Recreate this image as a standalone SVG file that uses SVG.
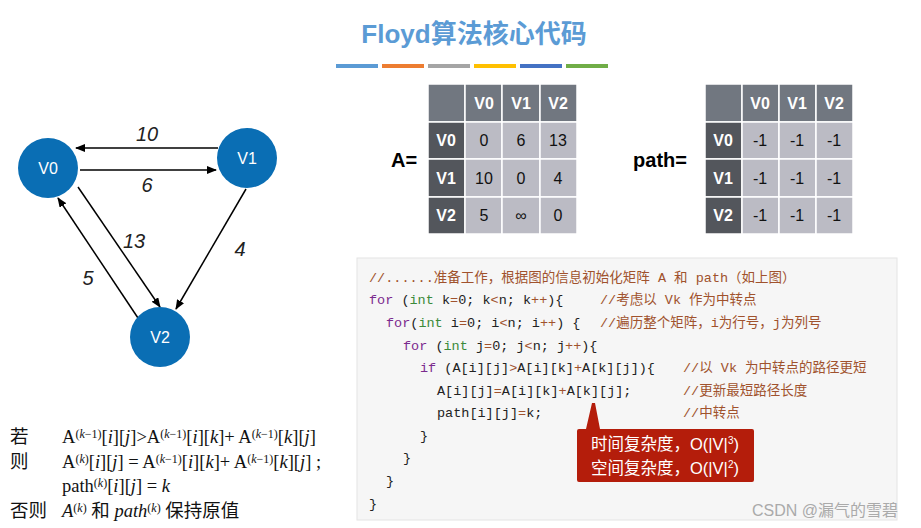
<svg xmlns="http://www.w3.org/2000/svg" width="921" height="528" viewBox="0 0 921 528">
<defs>
<marker id="ar" markerWidth="10" markerHeight="8" refX="9" refY="4" orient="auto" markerUnits="userSpaceOnUse"><path d="M0,0 L10,4 L0,8 Z" fill="#000"/></marker>
<style>
.nd{fill:#0a6eb4}
.nt{font-family:"Liberation Sans",Arial,sans-serif;font-size:16px;fill:#fff;text-anchor:middle}
.el{font-family:"Liberation Sans",Arial,sans-serif;font-size:20px;font-style:italic;fill:#222;text-anchor:middle}
.hd{fill:#717780}.rh{fill:#53565c}.cl{fill:#bbbbc4}
.ht{font-family:"Liberation Sans",Arial,sans-serif;font-size:16px;font-weight:bold;fill:#fff;text-anchor:middle}
.ct{font-family:"Liberation Sans",Arial,sans-serif;font-size:16px;fill:#111;text-anchor:middle}
.code{font-family:"Liberation Mono","Noto Sans CJK SC",monospace;font-size:13.5px;fill:#222}
.kw{fill:#7b2a8e}.ty{fill:#3a8a3a}.cm{fill:#a0522d}.op{fill:#a0522d}
.ser{font-family:"Liberation Serif","Noto Sans CJK SC",serif;font-size:18.5px;fill:#111}
.sup{font-size:12px}
</style>
</defs>
<rect width="921" height="528" fill="#fff"/>
<text x="474" y="43" text-anchor="middle" font-family="Liberation Sans,Noto Sans CJK SC,sans-serif" font-size="26" font-weight="bold" fill="#5b9bd5">Floyd算法核心代码</text>
<g>
<rect x="336" y="64" width="42" height="4" fill="#5b9bd5"/>
<rect x="382" y="64" width="42" height="4" fill="#ed7d31"/>
<rect x="428" y="64" width="42" height="4" fill="#a5a5a5"/>
<rect x="474" y="64" width="42" height="4" fill="#ffc000"/>
<rect x="520" y="64" width="42" height="4" fill="#4472c4"/>
<rect x="566" y="64" width="42" height="4" fill="#70ad47"/>
</g>
<g id="connectors" stroke="#000" stroke-width="1.5" fill="none">
<line x1="218" y1="148" x2="76" y2="148" marker-end="url(#ar)"/>
<line x1="80" y1="170" x2="216" y2="170" marker-end="url(#ar)"/>
<line x1="78" y1="187" x2="160" y2="307" marker-end="url(#ar)"/>
<line x1="138" y1="318" x2="58" y2="198" marker-end="url(#ar)"/>
<line x1="246" y1="189" x2="176" y2="309" marker-end="url(#ar)"/>
</g>
<text class="el" x="147" y="141">10</text>
<text class="el" x="147" y="192">6</text>
<text class="el" x="134" y="248">13</text>
<text class="el" x="88" y="285">5</text>
<text class="el" x="240" y="256">4</text>
<g id="V0"><circle class="nd" cx="48" cy="168" r="30"/><text class="nt" x="48" y="174">V0</text></g>
<g id="V1"><circle class="nd" cx="247" cy="158" r="30"/><text class="nt" x="247" y="164">V1</text></g>
<g id="V2"><circle class="nd" cx="160" cy="337" r="30"/><text class="nt" x="160" y="343">V2</text></g>

<g id="matA">
<text x="404" y="167" text-anchor="middle" font-family="Liberation Sans,sans-serif" font-size="20" font-weight="bold">A=</text>
<g stroke="#fff" stroke-width="1.5">
<rect class="hd" x="428" y="84" width="37" height="38"/><rect class="hd" x="465" y="84" width="37" height="38"/><rect class="hd" x="502" y="84" width="38" height="38"/><rect class="hd" x="540" y="84" width="37" height="38"/>
<rect class="rh" x="428" y="122" width="37" height="37"/><rect class="cl" x="465" y="122" width="37" height="37"/><rect class="cl" x="502" y="122" width="38" height="37"/><rect class="cl" x="540" y="122" width="37" height="37"/>
<rect class="rh" x="428" y="159" width="37" height="38"/><rect class="cl" x="465" y="159" width="37" height="38"/><rect class="cl" x="502" y="159" width="38" height="38"/><rect class="cl" x="540" y="159" width="37" height="38"/>
<rect class="rh" x="428" y="197" width="37" height="37"/><rect class="cl" x="465" y="197" width="37" height="37"/><rect class="cl" x="502" y="197" width="38" height="37"/><rect class="cl" x="540" y="197" width="37" height="37"/>
</g>
<text class="ht" x="484" y="109">V0</text><text class="ht" x="521" y="109">V1</text><text class="ht" x="558" y="109">V2</text>
<text class="ht" x="446" y="146">V0</text><text class="ht" x="446" y="184">V1</text><text class="ht" x="446" y="221">V2</text>
<text class="ct" x="484" y="146">0</text><text class="ct" x="521" y="146">6</text><text class="ct" x="558" y="146">13</text>
<text class="ct" x="484" y="184">10</text><text class="ct" x="521" y="184">0</text><text class="ct" x="558" y="184">4</text>
<text class="ct" x="484" y="221">5</text><text class="ct" x="521" y="221">∞</text><text class="ct" x="558" y="221">0</text>
</g>

<g id="matPath">
<text x="660" y="167" text-anchor="middle" font-family="Liberation Sans,sans-serif" font-size="20" font-weight="bold">path=</text>
<g stroke="#fff" stroke-width="1.5">
<rect class="hd" x="705" y="84" width="37" height="38"/><rect class="hd" x="742" y="84" width="37" height="38"/><rect class="hd" x="779" y="84" width="37" height="38"/><rect class="hd" x="816" y="84" width="37" height="38"/>
<rect class="rh" x="705" y="122" width="37" height="37"/><rect class="cl" x="742" y="122" width="37" height="37"/><rect class="cl" x="779" y="122" width="37" height="37"/><rect class="cl" x="816" y="122" width="37" height="37"/>
<rect class="rh" x="705" y="159" width="37" height="38"/><rect class="cl" x="742" y="159" width="37" height="38"/><rect class="cl" x="779" y="159" width="37" height="38"/><rect class="cl" x="816" y="159" width="37" height="38"/>
<rect class="rh" x="705" y="197" width="37" height="37"/><rect class="cl" x="742" y="197" width="37" height="37"/><rect class="cl" x="779" y="197" width="37" height="37"/><rect class="cl" x="816" y="197" width="37" height="37"/>
</g>
<text class="ht" x="760" y="109">V0</text><text class="ht" x="797" y="109">V1</text><text class="ht" x="834" y="109">V2</text>
<text class="ht" x="723" y="146">V0</text><text class="ht" x="723" y="184">V1</text><text class="ht" x="723" y="221">V2</text>
<text class="ct" x="760" y="146">-1</text><text class="ct" x="797" y="146">-1</text><text class="ct" x="834" y="146">-1</text>
<text class="ct" x="760" y="184">-1</text><text class="ct" x="797" y="184">-1</text><text class="ct" x="834" y="184">-1</text>
<text class="ct" x="760" y="221">-1</text><text class="ct" x="797" y="221">-1</text><text class="ct" x="834" y="221">-1</text>
</g>

<g id="code">
<rect x="357" y="258" width="540" height="262" fill="#f6f6f6" stroke="#e4e4e4"/>
<text class="code" x="369" y="282" xml:space="preserve"><tspan class="cm">//......准备工作，根据图的信息初始化矩阵 A 和 path（如上图）</tspan></text>
<text class="code" x="369" y="304" xml:space="preserve"><tspan class="kw">for</tspan> (<tspan class="ty">int</tspan> k<tspan class="op">=</tspan>0; k<tspan class="op">&lt;</tspan>n; k<tspan class="op">++</tspan>){</text>
<text class="code" x="600" y="304"><tspan class="cm">//考虑以 Vk 作为中转点</tspan></text>
<text class="code" x="386" y="327" xml:space="preserve"><tspan class="kw">for</tspan>(<tspan class="ty">int</tspan> i<tspan class="op">=</tspan>0; i<tspan class="op">&lt;</tspan>n; i<tspan class="op">++</tspan>) {</text>
<text class="code" x="600" y="327"><tspan class="cm">//遍历整个矩阵，i为行号，j为列号</tspan></text>
<text class="code" x="403" y="350" xml:space="preserve"><tspan class="kw">for</tspan> (<tspan class="ty">int</tspan> j<tspan class="op">=</tspan>0; j<tspan class="op">&lt;</tspan>n; j<tspan class="op">++</tspan>){</text>
<text class="code" x="420" y="372" xml:space="preserve"><tspan class="kw">if</tspan> (A[i][j]<tspan class="op">&gt;</tspan>A[i][k]<tspan class="op">+</tspan>A[k][j]){</text>
<text class="code" x="683" y="372"><tspan class="cm">//以 Vk 为中转点的路径更短</tspan></text>
<text class="code" x="437" y="395" xml:space="preserve">A[i][j]<tspan class="op">=</tspan>A[i][k]<tspan class="op">+</tspan>A[k][j];</text>
<text class="code" x="683" y="395"><tspan class="cm">//更新最短路径长度</tspan></text>
<text class="code" x="437" y="417" xml:space="preserve">path[i][j]<tspan class="op">=</tspan>k;</text>
<text class="code" x="683" y="417"><tspan class="cm">//中转点</tspan></text>
<text class="code" x="420" y="440">}</text>
<text class="code" x="403" y="462">}</text>
<text class="code" x="386" y="485">}</text>
<text class="code" x="369" y="508">}</text>
</g>

<g id="callout">
<path d="M579,429 L586,429 L592,403 L595,403 L600,429 L752,429 Q754,429 754,431 L754,480 Q754,482 752,482 L579,482 Q577,482 577,480 L577,431 Q577,429 579,429 Z" fill="#b41d0b"/>
<text x="665" y="450" text-anchor="middle" font-family="Liberation Sans,Noto Sans CJK SC,sans-serif" font-size="16.5" fill="#fff">时间复杂度，O(|V|<tspan font-size="10" dy="-6">3</tspan><tspan dy="6">)</tspan></text>
<text x="665" y="474" text-anchor="middle" font-family="Liberation Sans,Noto Sans CJK SC,sans-serif" font-size="16.5" fill="#fff">空间复杂度，O(|V|<tspan font-size="10" dy="-6">2</tspan><tspan dy="6">)</tspan></text>
</g>

<g id="formula">
<text class="ser" x="10" y="443">若</text>
<text class="ser" x="62" y="443">A<tspan class="sup" dy="-5">(<tspan font-style="italic">k</tspan>−1)</tspan><tspan dy="5">[<tspan font-style="italic">i</tspan>][<tspan font-style="italic">j</tspan>]&gt;A</tspan><tspan class="sup" dy="-5">(<tspan font-style="italic">k</tspan>−1)</tspan><tspan dy="5">[<tspan font-style="italic">i</tspan>][<tspan font-style="italic">k</tspan>]+ A</tspan><tspan class="sup" dy="-5">(<tspan font-style="italic">k</tspan>−1)</tspan><tspan dy="5">[<tspan font-style="italic">k</tspan>][<tspan font-style="italic">j</tspan>]</tspan></text>
<text class="ser" x="10" y="468">则</text>
<text class="ser" x="62" y="468">A<tspan class="sup" dy="-5">(<tspan font-style="italic">k</tspan>)</tspan><tspan dy="5">[<tspan font-style="italic">i</tspan>][<tspan font-style="italic">j</tspan>] = A</tspan><tspan class="sup" dy="-5">(<tspan font-style="italic">k</tspan>−1)</tspan><tspan dy="5">[<tspan font-style="italic">i</tspan>][<tspan font-style="italic">k</tspan>]+ A</tspan><tspan class="sup" dy="-5">(<tspan font-style="italic">k</tspan>−1)</tspan><tspan dy="5">[<tspan font-style="italic">k</tspan>][<tspan font-style="italic">j</tspan>] ;</tspan></text>
<text class="ser" x="62" y="492">path<tspan class="sup" dy="-5">(<tspan font-style="italic">k</tspan>)</tspan><tspan dy="5">[<tspan font-style="italic">i</tspan>][<tspan font-style="italic">j</tspan>] = <tspan font-style="italic">k</tspan></tspan></text>
<text class="ser" x="10" y="517">否则</text>
<text class="ser" x="62" y="517"><tspan font-style="italic">A</tspan><tspan class="sup" dy="-5">(<tspan font-style="italic">k</tspan>)</tspan><tspan dy="5"> 和 <tspan font-style="italic">path</tspan></tspan><tspan class="sup" dy="-5">(<tspan font-style="italic">k</tspan>)</tspan><tspan dy="5"> 保持原值</tspan></text>
</g>
<text x="898" y="516" text-anchor="end" font-family="Liberation Sans,Noto Sans CJK SC,sans-serif" font-size="16" fill="#aaa">CSDN @漏气的雪碧</text>
</svg>
